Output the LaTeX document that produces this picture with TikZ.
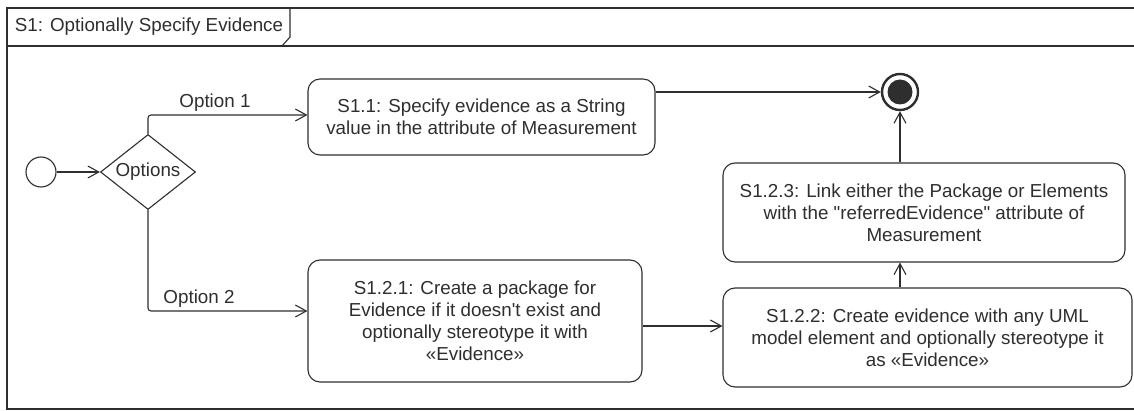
\documentclass[tikz,border=0pt]{standalone}
\usepackage{fontspec}
\setmainfont{Liberation Sans}[Ligatures=TeXOff]
\usepackage{tikz}
\usetikzlibrary{shapes.geometric}
\usetikzlibrary{arrows.meta}
\usetikzlibrary{calc}

\begin{document}
\begin{tikzpicture}[x=1pt,y=-1pt,line width=1.1pt,color=black!82,
    font=\fontsize{18.8}{22}\selectfont,
    actbox/.style={draw,rounded corners=12pt,align=center,inner sep=0pt},
    flow/.style={-{Straight Barb[length=11pt,width=12pt]}}]
            \useasboundingbox (0,0) rectangle (1134,411);
            % frame and its tab
            \draw (1134,8) -- (7,8) -- (7,409) -- (1134,409);
            \draw (7,46) -- (1134,46);
            \draw (290,8) -- (290,37) -- (282,46);
            \node[anchor=west] (title) at (11,27) {S1: Optionally Specify Evidence};
            % nodes
            \node[circle,draw,minimum size=30pt,inner sep=0pt] (init) at (41,172) {};
            \node[diamond,draw,shape aspect=1.27,inner sep=0pt,minimum width=95pt,minimum height=75pt] (dec) at (148,172) {Options};
            \node[actbox,minimum width=347pt,minimum height=76pt] (S11) at (481.5,117) {S1.1: Specify evidence as a String\\value in the attribute of Measurement};
            \node[actbox,minimum width=334pt,minimum height=122pt] (S121) at (475,321) {S1.2.1: Create a package for\\Evidence if it doesn't exist and\\optionally stereotype it with\\«Evidence»};
            \node[actbox,minimum width=409pt,minimum height=99pt] (S122) at (927.5,337.5) {S1.2.2: Create evidence with any UML\\model element and optionally stereotype it\\as «Evidence»};
            \node[actbox,minimum width=402pt,minimum height=99pt] (S123) at (924,212.5) {S1.2.3: Link either the Package or Elements\\with the "referredEvidence" attribute of\\Measurement};
            \node[circle,draw,line width=2.4pt,minimum size=36pt,inner sep=0pt,
                path picture={\fill (path picture bounding box.center) circle (12.5pt);}] (final) at (900,92) {};
            % flows
            \draw[flow] (init) -- (dec);
            \draw[flow,rounded corners=3pt] (dec.north) |- ([yshift=2pt]S11.west) node[pos=0.71,above] {Option 1};
            \draw[flow,rounded corners=3pt] (dec.south) |- ([yshift=10pt]S121.west) node[pos=0.66,above] {Option 2};
            \draw[flow] (S11.east |- final) -- (final);
            \coordinate (out121) at ([yshift=-5pt]S121.east);
            \draw[flow] (out121) -- (out121 -| S122.west);
            \draw[flow] (S122.north -| final) -- (S123.south -| final);
            \draw[flow] (S123.north -| final) -- (final);
        \end{tikzpicture}
\end{document}
